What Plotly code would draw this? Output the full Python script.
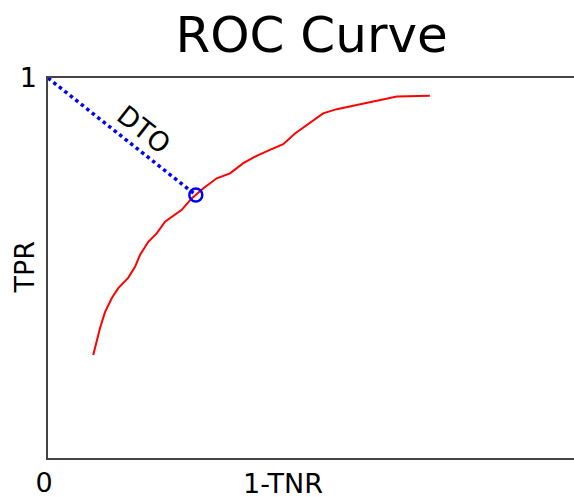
import plotly.graph_objects as go

# ROC curve points (1-TNR, TPR)
fpr = [0.119, 0.126, 0.137, 0.150, 0.168, 0.185, 0.211, 0.229, 0.242, 0.264,
       0.286, 0.308, 0.352, 0.378, 0.389, 0.409, 0.444, 0.479, 0.514, 0.549,
       0.584, 0.619, 0.650, 0.681, 0.707, 0.724, 0.760, 0.812, 0.865, 0.918, 1.005]
tpr = [0.271, 0.302, 0.342, 0.384, 0.421, 0.447, 0.474, 0.503, 0.534, 0.569,
       0.591, 0.622, 0.653, 0.683, 0.692, 0.710, 0.736, 0.749, 0.776, 0.795,
       0.811, 0.826, 0.854, 0.876, 0.894, 0.907, 0.918, 0.929, 0.940, 0.951, 0.953]

# best operating point (distance to the top-left corner)
dto_x = [0.0, 0.389]
dto_y = [1.0, 0.692]

x_ticks = [0]
x_tick_text = ['0']
y_ticks = [1]
y_tick_text = ['1']

FONT = 'DejaVu Sans'

fig = go.Figure()

fig.add_trace(go.Scatter(
    x=fpr, y=tpr, mode='lines',
    line=dict(color='red', width=2),
    showlegend=False, hoverinfo='skip',
))
fig.add_trace(go.Scatter(
    x=dto_x, y=dto_y, mode='lines',
    line=dict(color='blue', width=3.5, dash='dot'),
    showlegend=False, hoverinfo='skip',
))
fig.add_trace(go.Scatter(
    x=[dto_x[1]], y=[dto_y[1]], mode='markers',
    marker=dict(symbol='circle-open', size=13, color='blue', line=dict(width=2.5, color='blue')),
    showlegend=False, hoverinfo='skip',
))

fig.add_annotation(
    x=0.2, y=0.85, xref='x', yref='y',
    text='DTO', showarrow=False, textangle=38.3,
    xshift=20, yshift=6,
    font=dict(family=FONT, size=27, color='black'),
)
fig.add_annotation(
    x=0.447, y=0, xref='paper', yref='paper', yanchor='top',
    text='1-TNR', showarrow=False, yshift=-8,
    font=dict(family=FONT, size=27, color='black'),
)
fig.add_annotation(
    x=0, y=0.5, xref='paper', yref='paper', xanchor='right',
    text='TPR', showarrow=False, textangle=-90, xshift=-7, yshift=1,
    font=dict(family=FONT, size=27, color='black'),
)

fig.update_layout(
    width=574,
    height=497,
    margin=dict(l=48, r=0, t=78, b=39, autoexpand=False),
    paper_bgcolor='white',
    plot_bgcolor='white',
    font=dict(family=FONT, size=27, color='black'),
    title=dict(
        text='ROC Curve', x=0.543, xanchor='center',
        y=1 - 34 / 497, yanchor='middle', yref='container',
        font=dict(family=FONT, size=50, color='black'),
    ),
    xaxis=dict(
        range=[0, 526 / 380], showgrid=False, zeroline=False, automargin=False,
        showline=True, linecolor='#444', linewidth=1.5, mirror=True,
        tickvals=x_ticks, ticktext=x_tick_text, ticks='', ticklen=0,
        ticklabelshift=-4,
        tickfont=dict(family=FONT, size=27, color='black'),
    ),
    yaxis=dict(
        range=[0, 1], showgrid=False, zeroline=False, automargin=False,
        showline=True, linecolor='#444', linewidth=1.5,
        tickvals=y_ticks, ticktext=y_tick_text, ticks='', ticklen=0,
        ticklabelstandoff=4,
        tickfont=dict(family=FONT, size=27, color='black'),
    ),
)

fig.write_html(
    'out.html',
    config={'displayModeBar': False},
    post_script="document.body.style.margin='0';",
)
